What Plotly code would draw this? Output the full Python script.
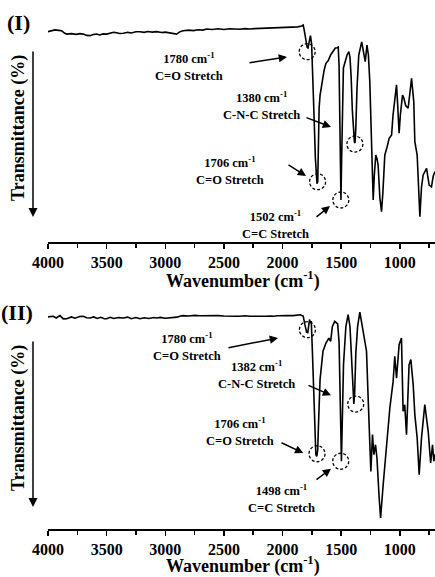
import plotly.graph_objects as go

# ---------------- data (wavenumber cm^-1, transmittance a.u.) ----------------
spectrum_I = [
    (4000, 95.6), (3970, 96.0), (3940, 96.4), (3910, 96.2), (3883, 96.0), (3860, 95.0), (3841, 94.5),
    (3800, 94.7), (3760, 94.4), (3730, 94.7), (3699, 94.5), (3670, 93.9), (3642, 93.8), (3615, 94.3),
    (3585, 94.5), (3560, 94.1), (3530, 94.6), (3500, 94.5), (3470, 94.9), (3440, 95.3), (3414, 95.1),
    (3390, 94.8), (3358, 94.9), (3320, 95.3), (3290, 95.0), (3250, 95.6), (3216, 95.6), (3180, 95.3),
    (3150, 95.7), (3110, 95.4), (3074, 95.6), (3030, 95.2), (3000, 95.4), (2960, 95.0), (2932, 94.9),
    (2903, 94.5), (2875, 95.6), (2847, 96.0), (2800, 96.3), (2760, 96.1), (2720, 96.5), (2680, 96.3),
    (2647, 96.8), (2600, 96.6), (2550, 96.9), (2500, 96.6), (2450, 96.9), (2400, 96.7), (2364, 96.7),
    (2320, 97.0), (2280, 96.8), (2240, 97.0), (2200, 97.1), (2150, 97.0), (2100, 97.2), (2080, 97.1),
    (2040, 97.3), (2000, 97.3), (1960, 97.4), (1909, 97.6), (1870, 97.8), (1838, 98.2), (1824, 98.6),
    (1816, 96.5), (1810, 94.1), (1800, 91.0), (1790, 88.5), (1783, 88.2), (1772, 91.5), (1762, 93.8),
    (1752, 90.0), (1740, 75.0), (1730, 55.0), (1720, 38.0), (1712, 27.0), (1706, 26.5), (1700, 27.5),
    (1694, 45.0), (1688, 60.9), (1680, 66.8), (1670, 70.5), (1655, 75.9), (1645, 78.2), (1630, 81.2),
    (1610, 82.5), (1590, 85.0), (1570, 86.5), (1550, 88.2), (1535, 88.3), (1525, 88.6), (1518, 80.0),
    (1512, 60.0), (1507, 35.0), (1502, 19.1), (1497, 35.0), (1490, 57.7), (1481, 79.1), (1450, 85.0),
    (1435, 86.5), (1425, 84.0), (1415, 75.0), (1405, 60.0), (1395, 48.0), (1387, 45.5), (1382, 45.0),
    (1375, 52.0), (1365, 70.0), (1350, 85.0), (1325, 91.0), (1310, 87.0), (1295, 82.0), (1280, 89.5),
    (1268, 85.0), (1256, 72.9), (1241, 42.7), (1235, 25.0), (1227, 19.1), (1218, 30.0), (1205, 39.5),
    (1195, 38.0), (1185, 35.0), (1170, 20.0), (1156, 13.8), (1145, 22.0), (1128, 39.5), (1108, 43.3),
    (1091, 47.1), (1070, 48.6), (1058, 57.7), (1040, 66.0), (1028, 71.4), (1018, 62.0), (1006, 49.4),
    (995, 58.0), (977, 66.8), (965, 65.3), (950, 62.0), (929, 60.8), (915, 68.0), (900, 74.4),
    (881, 63.8), (872, 45.6), (852, 39.5), (840, 25.0), (829, 11.5), (815, 25.0), (801, 30.5),
    (772, 33.5), (750, 25.9), (730, 25.1), (715, 30.0), (700, 32.0),
]

spectrum_II = [
    (4000, 96.4), (3970, 96.7), (3955, 96.7), (3930, 95.9), (3898, 97.0), (3870, 95.5), (3840, 95.6),
    (3800, 96.4), (3770, 95.8), (3730, 96.6), (3699, 96.7), (3670, 96.0), (3642, 95.9), (3610, 96.4),
    (3580, 95.7), (3550, 96.2), (3520, 95.6), (3500, 95.6), (3470, 96.2), (3440, 95.7), (3400, 96.1),
    (3358, 95.9), (3320, 96.3), (3290, 95.6), (3250, 96.1), (3216, 95.6), (3180, 96.0), (3140, 95.7),
    (3100, 96.1), (3074, 95.9), (3040, 96.2), (3000, 95.8), (2960, 96.0), (2932, 95.9), (2900, 96.3),
    (2870, 96.8), (2847, 97.0), (2800, 96.8), (2750, 97.1), (2700, 96.9), (2647, 97.0), (2600, 96.8),
    (2550, 97.0), (2500, 96.8), (2450, 96.9), (2400, 96.7), (2364, 96.7), (2320, 96.9), (2280, 96.7),
    (2240, 96.8), (2200, 96.9), (2150, 96.7), (2100, 96.8), (2080, 96.7), (2040, 96.9), (2000, 96.8),
    (1960, 97.0), (1909, 97.0), (1870, 97.2), (1852, 97.4), (1835, 97.0), (1824, 96.8), (1810, 93.0),
    (1795, 89.5), (1785, 89.3), (1775, 95.0), (1770, 95.2), (1762, 93.5), (1755, 94.5), (1745, 80.0),
    (1735, 60.0), (1725, 40.0), (1716, 33.8), (1708, 33.0), (1700, 36.0), (1695, 45.0), (1688, 59.5),
    (1680, 68.0), (1667, 74.7), (1655, 80.8), (1630, 84.5), (1605, 86.8), (1590, 85.3), (1575, 92.1),
    (1555, 94.4), (1530, 93.2), (1518, 85.0), (1510, 70.0), (1505, 50.0), (1498, 30.8), (1492, 45.0),
    (1480, 75.0), (1460, 92.0), (1441, 97.4), (1425, 92.0), (1410, 75.0), (1400, 60.0), (1392, 56.8),
    (1385, 62.0), (1375, 80.0), (1360, 92.0), (1341, 98.6), (1313, 89.9), (1284, 80.8), (1270, 59.5),
    (1256, 33.8), (1247, 26.2), (1233, 42.9), (1221, 33.8), (1207, 38.3), (1195, 32.3), (1176, 14.1),
    (1164, 5.0), (1142, 20.1), (1113, 39.9), (1085, 55.0), (1057, 67.1), (1043, 78.5), (1028, 68.6),
    (1006, 83.8), (986, 86.8), (972, 53.5), (958, 56.5), (943, 42.9), (921, 74.7), (906, 77.0),
    (886, 65.6), (872, 52.0), (852, 41.4), (835, 24.7), (815, 41.4), (787, 56.5), (758, 44.4),
    (737, 30.0), (721, 38.3), (710, 30.8), (700, 34.0),
]

x_tick_vals = [4000, 3500, 3000, 2500, 2000, 1500, 1000]
x_tick_text = ["4000", "3500", "3000", "2500", "2000", "1500", "1000"]

panel_labels = ["(I)", "(II)"]

# band assignments: (wavenumber label, assignment), circle centre (wn, T)
bands_I = [("1780", "C=O Stretch"), ("1380", "C-N-C Stretch"), ("1706", "C=O Stretch"), ("1502", "C=C Stretch")]
circles_I = [(1790, 86.5), (1383, 44.5), (1701, 27.4), (1503, 19.1)]
bands_II = [("1780", "C=O Stretch"), ("1382", "C-N-C Stretch"), ("1706", "C=O Stretch"), ("1498", "C=C Stretch")]
circles_II = [(1788, 90.6), (1376, 56.8), (1706, 34.2), (1504, 30.8)]

# ---------------- layout helpers ----------------
W, H = 435, 577
FONT = "Liberation Serif, Times New Roman, DejaVu Serif, serif"


def fx(p):
    return p / W


def fy(p):
    return 1 - p / H


X_DOMAIN = [fx(48), 1.0]
Y_DOMAIN_I = [fy(242), fy(22)]
Y_DOMAIN_II = [fy(529), fy(309)]
X_RANGE = [4000, 700]

fig = go.Figure()
wn_I, t_I = zip(*spectrum_I)
wn_II, t_II = zip(*spectrum_II)
fig.add_trace(go.Scatter(x=wn_I, y=t_I, mode="lines", line=dict(color="black", width=1.6),
                         xaxis="x", yaxis="y", showlegend=False, hoverinfo="skip"))
fig.add_trace(go.Scatter(x=wn_II, y=t_II, mode="lines", line=dict(color="black", width=1.6),
                         xaxis="x2", yaxis="y2", showlegend=False, hoverinfo="skip"))

xaxis_common = dict(
    domain=X_DOMAIN, range=X_RANGE, showgrid=False, zeroline=False,
    showline=True, linecolor="black", linewidth=1.5,
    ticks="outside", ticklen=5, tickwidth=1.5, tickcolor="black",
    tickvals=x_tick_vals, ticktext=x_tick_text,
    tickfont=dict(family=FONT, size=16, color="black", weight="bold"),
    minor=dict(dtick=250, ticks="outside", ticklen=4, tickwidth=1.5, tickcolor="black", showgrid=False),
)
yaxis_common = dict(range=[0, 100], showgrid=False, zeroline=False, showline=False,
                    showticklabels=False, ticks="")

fig.update_layout(
    width=W, height=H, margin=dict(l=0, r=0, t=0, b=0, autoexpand=False),
    paper_bgcolor="white", plot_bgcolor="white", showlegend=False, hovermode=False,
    xaxis=dict(anchor="y", **xaxis_common),
    yaxis=dict(domain=Y_DOMAIN_I, anchor="x", **yaxis_common),
    xaxis2=dict(anchor="y2", **xaxis_common),
    yaxis2=dict(domain=Y_DOMAIN_II, anchor="x2", **yaxis_common),
)

annotations = []
shapes = []


def bold(size):
    return dict(family=FONT, size=size, color="black", weight="bold")


def panel(offset, label, bands, circles, text_pos, arrows, xr, yr, label_left, title_y):
    annotations.append(dict(text=label, x=fx(label_left), y=fy(offset + 22),
                            xref="paper", yref="paper", showarrow=False, font=bold(22),
                            xanchor="left", yanchor="middle", borderpad=0))
    annotations.append(dict(text="Transmittance (%)", x=fx(18), y=fy(offset + 128), xref="paper", yref="paper",
                            showarrow=False, textangle=-90, font=bold(18), xanchor="center", yanchor="middle"))
    annotations.append(dict(text="", x=fx(33), y=fy(offset + 217), xref="paper", yref="paper",
                            showarrow=True, ax=0, ay=-167, arrowhead=2, arrowsize=1.2, arrowwidth=1.5,
                            arrowcolor="black"))
    annotations.append(dict(text="Wavenumber (cm<sup>-1</sup>)", x=fx(243), y=fy(title_y),
                            xref="paper", yref="paper", showarrow=False, font=bold(18),
                            xanchor="center", yanchor="bottom", borderpad=0))
    for (wn, name), (cx, cy), (tx, ty), ((ax0, ay0), (hx, hy)) in zip(bands, circles, text_pos, arrows):
        annotations.append(dict(text=f"{wn} cm<sup>-1</sup><br>{name}", x=fx(tx), y=fy(offset + ty),
                                xref="paper", yref="paper", showarrow=False, font=bold(12.5),
                                xanchor="center", yanchor="middle", align="center"))
        annotations.append(dict(text="", x=fx(hx), y=fy(offset + hy), xref="paper", yref="paper",
                                showarrow=True, ax=ax0 - hx, ay=ay0 - hy, arrowhead=2, arrowsize=1.1,
                                arrowwidth=1.5, arrowcolor="black"))
        shapes.append(dict(type="circle", xref=xr, yref=yr, xsizemode="pixel", ysizemode="pixel",
                           xanchor=cx, yanchor=cy, x0=-8, x1=8, y0=-8, y1=8,
                           line=dict(color="black", width=1.3, dash="3px,2px")))


panel(0, panel_labels[0], bands_I, circles_I,
      [(189, 66.5), (261, 105.5), (230, 171), (275, 224)],
      [((248, 63), (287, 57)), ((305, 117), (331, 127)), ((287, 164), (306, 176)), ((315, 218), (330, 206))],
      "x", "y", 6, 293)
panel(290, panel_labels[1], bands_II, circles_II,
      [(187, 56.3), (256, 84.7), (240, 141.7), (281, 208)],
      [((227, 58), (278, 48)), ((307, 94.7), (331, 105.3)), ((280, 152), (303.3, 163)),
       ((315, 190.7), (331, 178.7))],
      "x2", "y2", 0, 578)

fig.update_layout(annotations=annotations, shapes=shapes)
# remove the default 8px page margin so the figure fills the window exactly
fig.write_html("out.html", config={"displayModeBar": False, "staticPlot": True},
               post_script="document.body.style.margin='0px';")
